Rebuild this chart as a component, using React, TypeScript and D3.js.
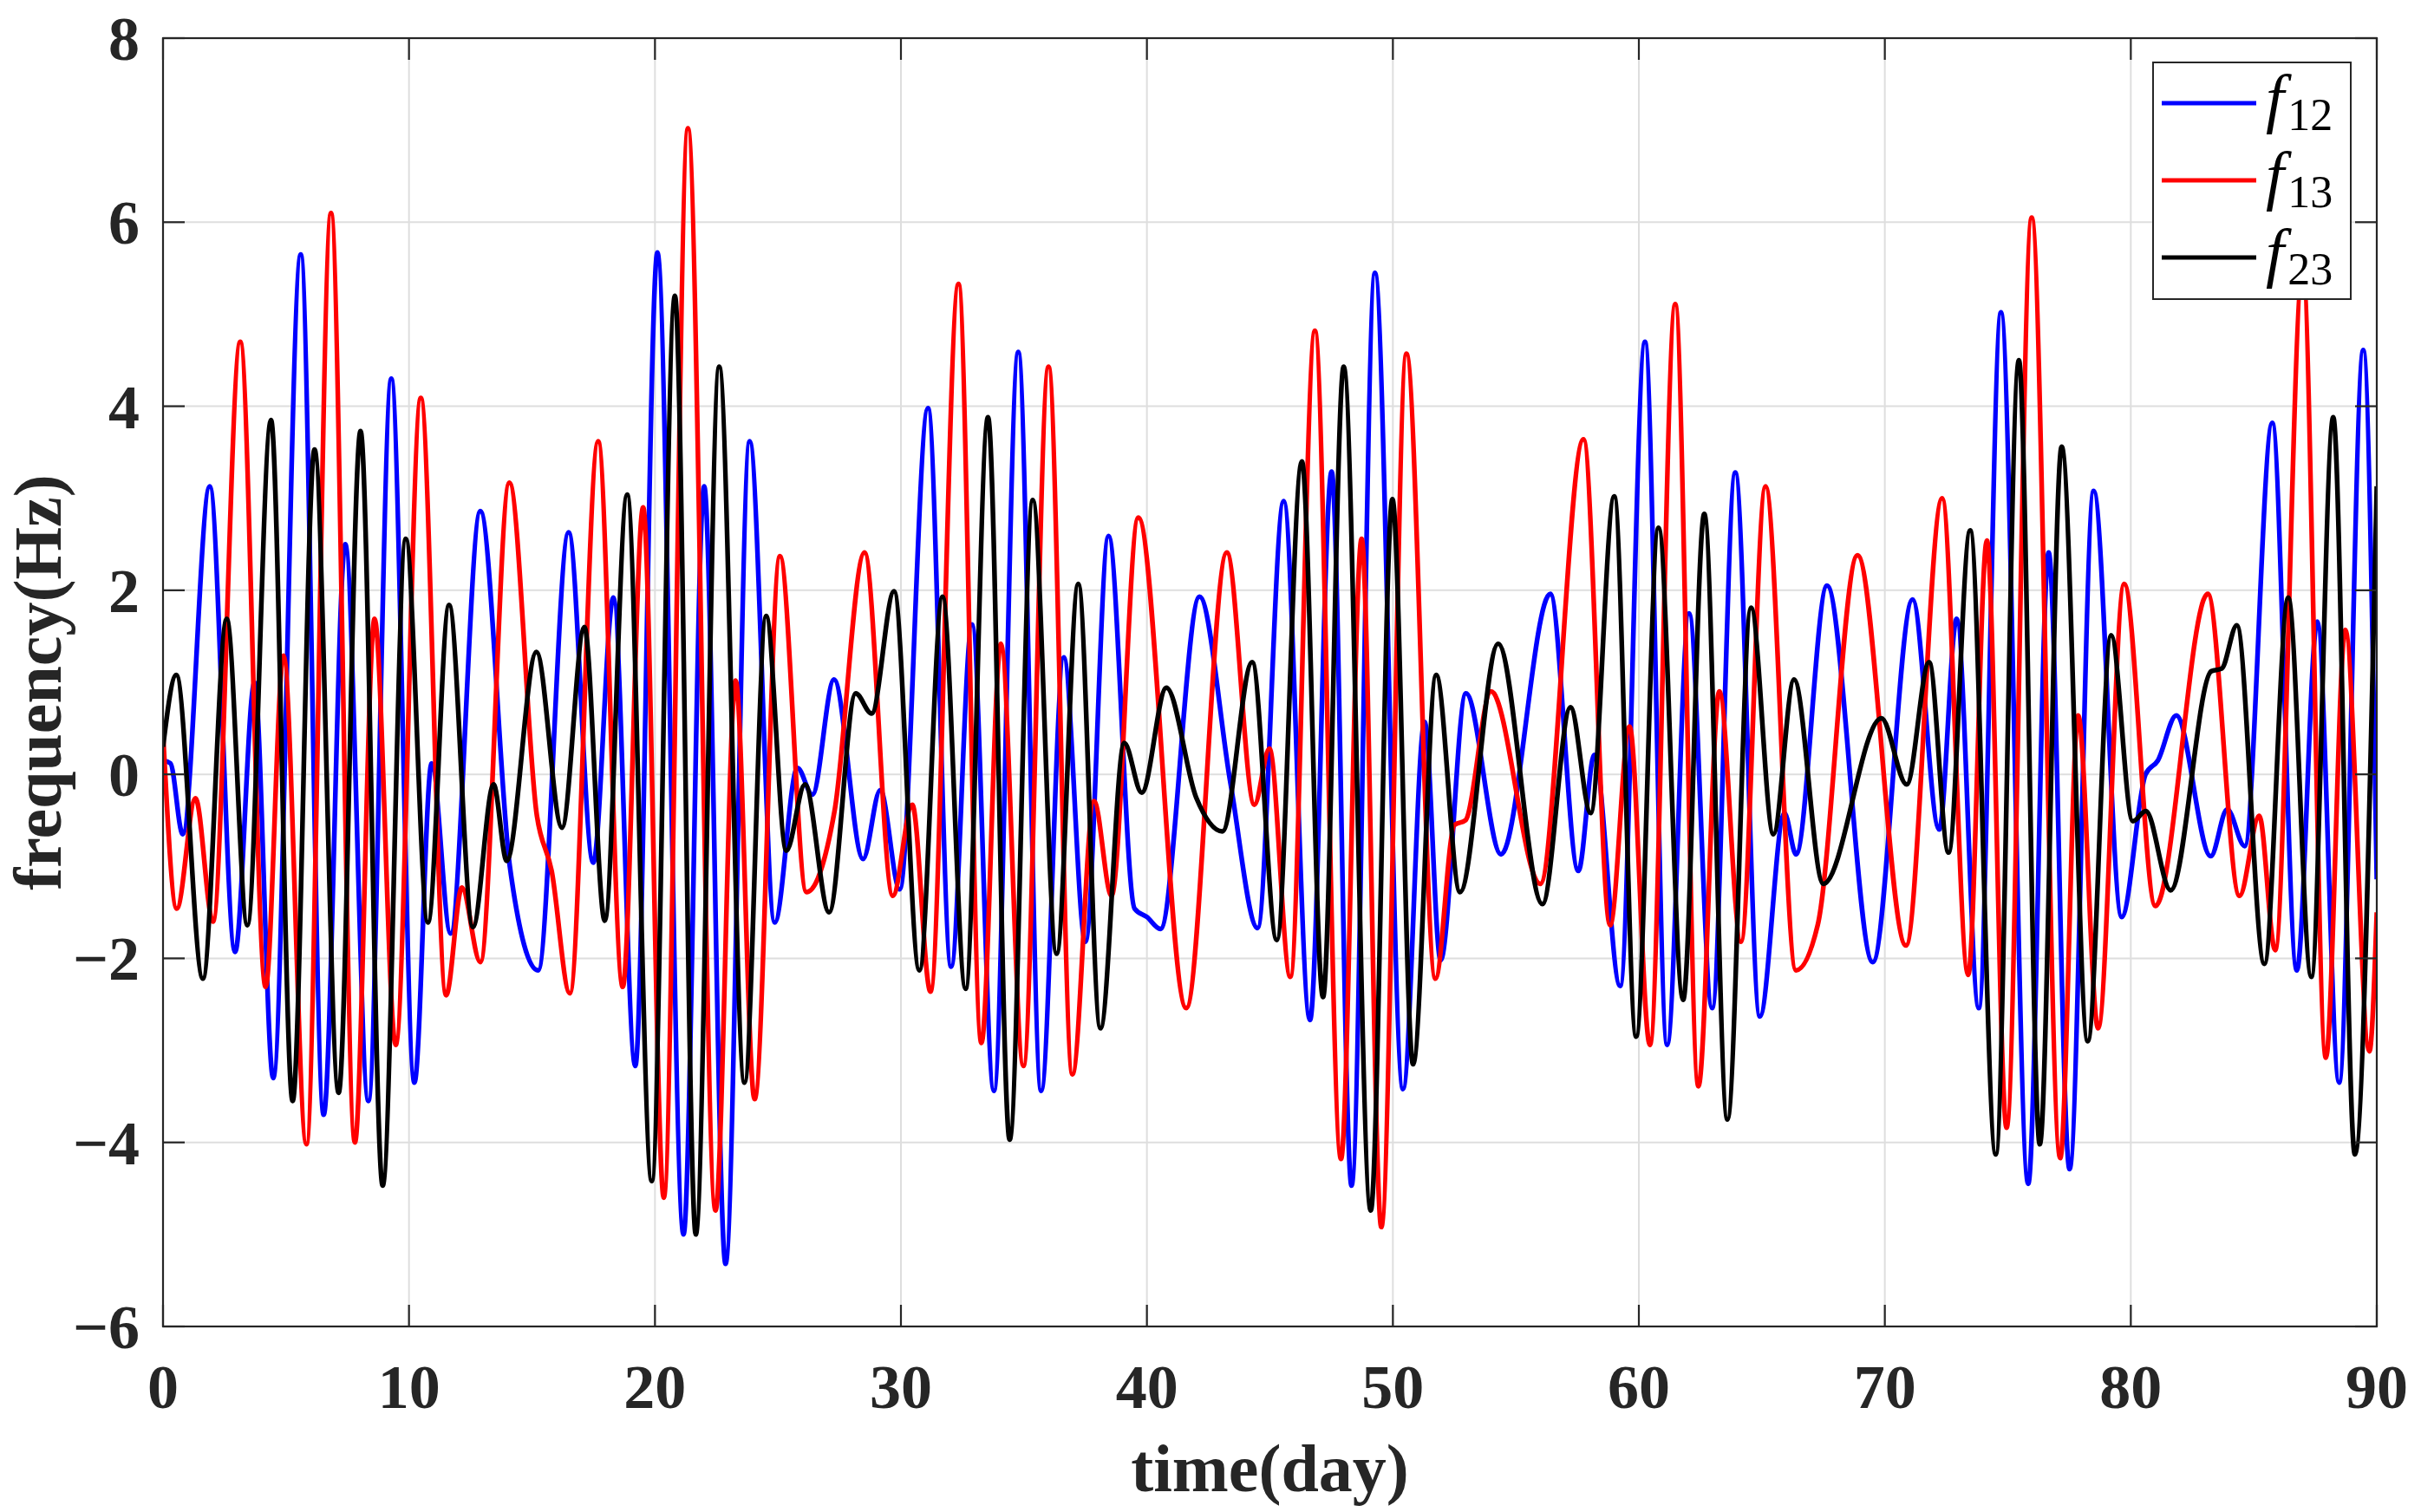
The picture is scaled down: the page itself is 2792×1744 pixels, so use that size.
import React from 'react';
import * as d3 from 'd3';

// extrema: [day, Hz]
const f12: [number, number][] = [
  [0, 0.15], [0.3, 0.12], [0.8, -0.65], [1.9, 3.13], [2.93, -1.93], [3.72, 1.0], [4.48, -3.3],
  [5.6, 5.65], [6.53, -3.7], [7.41, 2.5], [8.35, -3.55], [9.28, 4.3], [10.22, -3.35], [10.92, 0.12],
  [11.69, -1.73], [12.9, 2.86], [14.1, -1.0], [15.25, -2.13], [16.49, 2.63], [17.49, -0.96],
  [18.31, 1.92], [19.2, -3.17], [20.1, 5.67], [21.16, -5.0], [22.0, 3.13], [22.87, -5.32],
  [23.85, 3.62], [24.87, -1.61], [25.79, 0.07], [26.4, -0.22], [27.28, 1.03], [28.46, -0.92],
  [29.16, -0.17], [29.95, -1.25], [31.1, 3.98], [32.04, -2.09], [32.89, 1.63], [33.78, -3.44],
  [34.77, 4.59], [35.7, -3.44], [36.62, 1.27], [37.5, -1.82], [38.44, 2.59], [39.5, -1.46],
  [40.0, -1.55], [40.55, -1.68], [42.14, 1.93], [43.4, -0.1], [44.5, -1.67], [45.56, 2.97],
  [46.63, -2.67], [47.51, 3.29], [48.32, -4.47], [49.27, 5.45], [50.41, -3.42], [51.29, 0.57],
  [51.94, -2.02], [52.97, 0.88], [54.4, -0.87], [56.4, 1.96], [57.54, -1.05], [58.19, 0.21],
  [59.24, -2.3], [60.25, 4.7], [61.15, -2.94], [62.04, 1.75], [62.98, -2.54], [63.92, 3.28],
  [64.92, -2.63], [65.92, -0.42], [66.39, -0.87], [67.65, 2.05], [69.51, -2.04], [71.13, 1.9],
  [72.21, -0.6], [72.92, 1.69], [73.82, -2.54], [74.72, 5.02], [75.83, -4.45], [76.66, 2.41],
  [77.51, -4.29], [78.49, 3.08], [79.63, -1.55], [80.6, 0.0], [81.1, 0.15], [81.85, 0.64],
  [83.25, -0.89], [83.92, -0.38], [84.63, -0.78], [85.75, 3.82], [86.75, -2.13], [87.58, 1.66],
  [88.47, -3.35], [89.45, 4.61], [90, -1.14],
];

const f13: [number, number][] = [
  [0, 0.45], [0.56, -1.46], [1.32, -0.26], [2.03, -1.6], [3.14, 4.7], [4.17, -2.31], [4.9, 1.29],
  [5.83, -4.02], [6.83, 6.1], [7.8, -4.0], [8.6, 1.69], [9.46, -2.94], [10.48, 4.09], [11.51, -2.4],
  [12.15, -1.23], [12.9, -2.04], [14.08, 3.17], [15.2, -0.45], [15.8, -1.05], [16.54, -2.38],
  [17.69, 3.62], [18.69, -2.31], [19.52, 2.9], [20.36, -4.6], [21.34, 7.02], [22.46, -4.74],
  [23.28, 1.02], [24.05, -3.53], [25.08, 2.37], [26.16, -1.28], [27.3, -0.4], [28.52, 2.41],
  [29.67, -1.32], [30.46, -0.33], [31.2, -2.36], [32.34, 5.33], [33.27, -2.92], [34.06, 1.42],
  [34.98, -3.17], [36.0, 4.43], [36.97, -3.26], [37.85, -0.29], [38.56, -1.32], [39.65, 2.79],
  [41.6, -2.54], [43.25, 2.41], [44.37, -0.33], [44.98, 0.28], [45.83, -2.2], [46.83, 4.82],
  [47.89, -4.18], [48.73, 2.56], [49.53, -4.92], [50.55, 4.57], [51.73, -2.22], [52.5, -0.55],
  [52.95, -0.5], [53.99, 0.9], [55.99, -1.19], [57.75, 3.64], [58.83, -1.64], [59.62, 0.52],
  [60.45, -2.94], [61.48, 5.11], [62.42, -3.39], [63.27, 0.9], [64.15, -1.82], [65.15, 3.13],
  [66.39, -2.13], [67.27, -1.64], [68.89, 2.38], [70.86, -1.86], [72.33, 3.0], [73.39, -2.18],
  [74.15, 2.54], [74.95, -3.84], [75.97, 6.05], [77.13, -4.17], [77.86, 0.64], [78.67, -2.76],
  [79.73, 2.07], [81.0, -1.43], [83.13, 1.96], [84.42, -1.32], [85.22, -0.45], [85.87, -1.91],
  [86.99, 5.5], [87.93, -3.08], [88.72, 1.57], [89.7, -3.01], [90, -1.5],
];

const f23: [number, number][] = [
  [0, 0.3], [0.54, 1.08], [1.62, -2.22], [2.59, 1.69], [3.43, -1.64], [4.39, 3.85], [5.27, -3.55],
  [6.16, 3.53], [7.14, -3.46], [8.03, 3.73], [8.93, -4.47], [9.87, 2.56], [10.77, -1.61],
  [11.63, 1.84], [12.6, -1.66], [13.44, -0.11], [13.97, -0.94], [15.18, 1.33], [16.22, -0.58],
  [17.13, 1.6], [17.96, -1.59], [18.87, 3.04], [19.87, -4.42], [20.81, 5.2], [21.66, -5.0],
  [22.61, 4.43], [23.64, -3.35], [24.52, 1.72], [25.34, -0.83], [26.1, -0.11], [27.08, -1.5],
  [28.16, 0.88], [28.81, 0.66], [29.72, 1.99], [30.75, -2.13], [31.69, 1.93], [32.63, -2.33],
  [33.54, 3.88], [34.42, -3.97], [35.36, 2.98], [36.33, -1.95], [37.21, 2.07], [38.11, -2.76],
  [39.08, 0.34], [39.79, -0.2], [40.79, 0.94], [42.0, -0.25], [43.07, -0.62], [44.28, 1.22],
  [45.28, -1.8], [46.3, 3.4], [47.16, -2.42], [48.0, 4.43], [49.1, -4.74], [49.98, 2.99],
  [50.82, -3.15], [51.76, 1.08], [52.73, -1.28], [54.28, 1.42], [56.08, -1.41], [57.22, 0.73],
  [58.04, -0.42], [59.0, 3.02], [59.89, -2.85], [60.8, 2.68], [61.8, -2.45], [62.66, 2.83],
  [63.6, -3.75], [64.56, 1.81], [65.47, -0.65], [66.31, 1.03], [67.5, -1.19], [69.86, 0.61],
  [70.89, -0.11], [71.8, 1.22], [72.59, -0.85], [73.47, 2.65], [74.51, -4.13], [75.45, 4.5],
  [76.3, -4.02], [77.19, 3.56], [78.25, -2.9], [79.2, 1.51], [80.08, -0.51], [80.61, -0.4],
  [81.62, -1.26], [83.27, 1.12], [83.7, 1.15], [84.31, 1.62], [85.43, -2.06], [86.4, 1.92],
  [87.34, -2.2], [88.23, 3.88], [89.11, -4.13], [90, 3.13],
];

const xTicks = [0, 10, 20, 30, 40, 50, 60, 70, 80, 90];
const yTicks = [-6, -4, -2, 0, 2, 4, 6, 8];
const seriesNames = ['12', '13', '23'];
const seriesColors = ['#0000ff', '#ff0000', '#000000'];

const W = 2792;
const H = 1744;
const left = 188, right = 2741, top = 44, bottom = 1530;
const axisColor = '#262626';
const font = '"Liberation Serif", "Times New Roman", serif';

function App() {
  const x = d3.scaleLinear().domain([0, 90]).range([left, right]);
  const y = d3.scaleLinear().domain([-6, 8]).range([bottom, top]);
  const line = d3.line<[number, number]>()
    .x(d => x(d[0]))
    .y(d => y(d[1]))
    .curve(d3.curveMonotoneX);
  const series = [f12, f13, f23];
  const tickLen = 25;
  const minus = (v: number) => (v < 0 ? '\u2212' + Math.abs(v) : String(v));

  const legX = 2483, legY = 72, legW = 228, legH = 273;
  const rowY = [119, 208, 297];

  return (
    <svg width={W} height={H} style={{ position: 'absolute', left: 0, top: 0, background: '#fff' }}>
      <rect x={0} y={0} width={W} height={H} fill="#fff" />
      <defs>
        <clipPath id="plotClip">
          <rect x={left} y={top} width={right - left} height={bottom - top} />
        </clipPath>
      </defs>
      {/* grid */}
      {xTicks.map(t => (
        <line key={'gx' + t} x1={x(t)} x2={x(t)} y1={top} y2={bottom} stroke="#dedede" strokeWidth={2} />
      ))}
      {yTicks.map(t => (
        <line key={'gy' + t} x1={left} x2={right} y1={y(t)} y2={y(t)} stroke="#dedede" strokeWidth={2} />
      ))}
      {/* series */}
      <g clipPath="url(#plotClip)">
        {series.map((s, i) => (
          <path key={i} d={line(s) as string} fill="none" stroke={seriesColors[i]} strokeWidth={5.5}
            strokeLinejoin="round" />
        ))}
      </g>
      {/* box and ticks */}
      <rect x={left} y={top} width={right - left} height={bottom - top} fill="none" stroke={axisColor} strokeWidth={2.2} />
      {xTicks.map(t => (
        <g key={'tx' + t}>
          <line x1={x(t)} x2={x(t)} y1={bottom} y2={bottom - tickLen} stroke={axisColor} strokeWidth={2.2} />
          <line x1={x(t)} x2={x(t)} y1={top} y2={top + tickLen} stroke={axisColor} strokeWidth={2.2} />
          <text x={x(t)} y={1624} textAnchor="middle" fontFamily={font} fontWeight="bold" fontSize={72} fill={axisColor}>
            {t}
          </text>
        </g>
      ))}
      {yTicks.map(t => (
        <g key={'ty' + t}>
          <line x1={left} x2={left + tickLen} y1={y(t)} y2={y(t)} stroke={axisColor} strokeWidth={2.2} />
          <line x1={right} x2={right - tickLen} y1={y(t)} y2={y(t)} stroke={axisColor} strokeWidth={2.2} />
          <text x={161} y={y(t) + 25} textAnchor="end" fontFamily={font} fontWeight="bold" fontSize={72} fill={axisColor}>
            {minus(t)}
          </text>
        </g>
      ))}
      {/* axis labels */}
      <text x={(left + right) / 2} y={1720} textAnchor="middle" fontFamily={font} fontWeight="bold" fontSize={78} fill={axisColor}>
        time(day)
      </text>
      <text transform={`translate(70, ${(top + bottom) / 2}) rotate(-90)`} textAnchor="middle" fontFamily={font}
        fontWeight="bold" fontSize={78} fill={axisColor}>
        frequency(Hz)
      </text>
      {/* legend */}
      <rect x={legX} y={legY} width={legW} height={legH} fill="#fff" stroke={axisColor} strokeWidth={2} />
      {seriesNames.map((n, i) => (
        <g key={'lg' + n}>
          <line x1={2493} x2={2602} y1={rowY[i]} y2={rowY[i]} stroke={seriesColors[i]} strokeWidth={5} />
          <text x={2613} y={rowY[i] + 20} fontFamily={font} fontStyle="italic" fontSize={76} fill="#000">
            f
            <tspan dx={4} dy={11} fontStyle="normal" fontSize={52}>{n}</tspan>
          </text>
        </g>
      ))}
    </svg>
  );
}

export default App;
